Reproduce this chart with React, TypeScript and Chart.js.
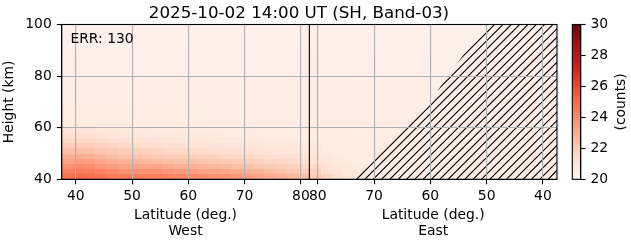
import React, { useEffect, useRef } from "react";
import { Chart, registerables } from "chart.js";

Chart.register(...registerables);
Chart.defaults.font.family = "DejaVu Sans";

// ---------- text ----------
const TITLE = "2025-10-02 14:00 UT (SH, Band-03)";
const ERR_TEXT = "ERR: 130";
const Y_LABEL = "Height (km)";
const X_LABEL = "Latitude (deg.)";
const WEST_LABEL = "West";
const EAST_LABEL = "East";
const CB_LABEL = "(counts)";

// ---------- axes ----------
const POLE_LAT = 81.5; // where the West and East halves meet
const LAT_EDGE = 37.5; // outer latitude of both halves
const WEST_TICKS = [40, 50, 60, 70, 80];
const EAST_TICKS = [80, 70, 60, 50, 40];
const HEIGHT_MIN = 40;
const HEIGHT_MAX = 100;
const HEIGHT_TICKS = [40, 60, 80, 100];
const CB_MIN = 20;
const CB_MAX = 30;
const CB_TICKS = [20, 22, 24, 26, 28, 30];

// ---------- grid cells ----------
const westColEdges = [37.5, 39.5, 41.5, 43.5, 45.5, 47.5, 49.5, 51.5, 53.5, 55.5, 57.5, 59.5, 61.5, 63.5, 65.5, 67.5, 69.5, 71.5, 73.5, 75.5, 77.5, 79.5, 81.5];
const eastColEdges = [81.5, 79.5, 77.5, 75.5, 73.5, 71.5, 69.5, 67.5, 65.5, 63.5, 61.5, 59.5, 57.5, 55.5, 53.5, 51.5, 49.5, 47.5, 45.5, 43.5, 41.5, 39.5, 37.5];
const rowEdges = [40, 42, 44, 46, 48, 50, 52, 54, 56, 58, 60, 62, 70, 80, 90, 100];

// counts, rows bottom -> top, columns from outer latitude towards the pole
const westValues = [
  [24.8, 25.0, 24.9, 24.7, 24.5, 24.4, 24.4, 24.3, 24.3, 24.2, 24.1, 24.0, 23.9, 23.8, 23.7, 23.5, 23.4, 23.2, 23.0, 22.8, 22.6, 22.4],
  [24.3, 24.5, 24.4, 24.2, 24.0, 23.8, 23.8, 23.7, 23.7, 23.6, 23.5, 23.4, 23.3, 23.2, 23.1, 23.0, 22.9, 22.7, 22.5, 22.3, 22.1, 21.9],
  [23.8, 24.0, 23.9, 23.6, 23.4, 23.3, 23.2, 23.1, 23.1, 23.0, 22.9, 22.8, 22.7, 22.6, 22.5, 22.4, 22.3, 22.1, 22.0, 21.8, 21.7, 21.5],
  [23.3, 23.4, 23.3, 23.1, 22.9, 22.8, 22.7, 22.6, 22.5, 22.4, 22.3, 22.3, 22.2, 22.1, 22.0, 21.9, 21.8, 21.7, 21.6, 21.5, 21.4, 21.2],
  [22.8, 22.9, 22.8, 22.6, 22.4, 22.3, 22.2, 22.1, 22.0, 21.9, 21.9, 21.8, 21.7, 21.7, 21.6, 21.5, 21.5, 21.4, 21.3, 21.2, 21.1, 21.0],
  [22.3, 22.4, 22.3, 22.1, 22.0, 21.9, 21.8, 21.7, 21.6, 21.5, 21.5, 21.4, 21.4, 21.3, 21.3, 21.2, 21.2, 21.1, 21.0, 21.0, 20.9, 20.8],
  [21.9, 21.9, 21.9, 21.7, 21.6, 21.5, 21.4, 21.3, 21.3, 21.2, 21.2, 21.1, 21.1, 21.0, 21.0, 21.0, 20.9, 20.9, 20.8, 20.8, 20.8, 20.7],
  [21.5, 21.5, 21.5, 21.4, 21.3, 21.2, 21.1, 21.1, 21.0, 21.0, 20.9, 20.9, 20.9, 20.8, 20.8, 20.8, 20.7, 20.7, 20.7, 20.7, 20.6, 20.6],
  [21.2, 21.2, 21.2, 21.1, 21.0, 20.9, 20.9, 20.8, 20.8, 20.8, 20.7, 20.7, 20.7, 20.7, 20.6, 20.6, 20.6, 20.6, 20.6, 20.5, 20.5, 20.5],
  [20.9, 20.9, 20.9, 20.8, 20.8, 20.7, 20.7, 20.7, 20.6, 20.6, 20.6, 20.6, 20.6, 20.5, 20.5, 20.5, 20.5, 20.5, 20.5, 20.5, 20.4, 20.4],
  [20.7, 20.7, 20.7, 20.6, 20.6, 20.6, 20.5, 20.5, 20.5, 20.5, 20.5, 20.5, 20.5, 20.4, 20.4, 20.4, 20.4, 20.4, 20.4, 20.4, 20.4, 20.4],
  [20.5, 20.5, 20.5, 20.5, 20.5, 20.5, 20.5, 20.5, 20.5, 20.5, 20.5, 20.5, 20.4, 20.4, 20.4, 20.4, 20.4, 20.4, 20.4, 20.4, 20.4, 20.4],
  [20.4, 20.4, 20.4, 20.4, 20.4, 20.4, 20.4, 20.4, 20.4, 20.4, 20.4, 20.4, 20.4, 20.4, 20.4, 20.4, 20.4, 20.4, 20.4, 20.4, 20.4, 20.4],
  [20.35, 20.35, 20.35, 20.35, 20.35, 20.35, 20.35, 20.35, 20.35, 20.35, 20.35, 20.35, 20.35, 20.35, 20.35, 20.35, 20.35, 20.35, 20.35, 20.35, 20.35, 20.35],
  [20.3, 20.3, 20.3, 20.3, 20.3, 20.3, 20.3, 20.3, 20.3, 20.3, 20.3, 20.3, 20.3, 20.3, 20.3, 20.3, 20.3, 20.3, 20.3, 20.3, 20.3, 20.3],
];

// columns from the pole towards the outer latitude
const eastValues = [
  [22.0, 21.6, 21.2, 20.9, 20.7, 20.6, 20.6, 20.5, 20.5, 20.5, 20.5, 20.5, 20.5, 20.5, 20.5, 20.5, 20.5, 20.5, 20.5, 20.5, 20.5, 20.5],
  [21.7, 21.3, 21.0, 20.8, 20.6, 20.5, 20.5, 20.5, 20.5, 20.5, 20.5, 20.5, 20.5, 20.5, 20.5, 20.5, 20.5, 20.5, 20.5, 20.5, 20.5, 20.5],
  [21.4, 21.1, 20.9, 20.7, 20.6, 20.5, 20.5, 20.5, 20.5, 20.5, 20.5, 20.5, 20.5, 20.5, 20.5, 20.5, 20.5, 20.5, 20.5, 20.5, 20.5, 20.5],
  [21.1, 20.9, 20.7, 20.6, 20.5, 20.5, 20.5, 20.5, 20.5, 20.5, 20.5, 20.5, 20.5, 20.5, 20.5, 20.5, 20.5, 20.5, 20.5, 20.5, 20.5, 20.5],
  [20.9, 20.7, 20.6, 20.5, 20.5, 20.5, 20.5, 20.5, 20.5, 20.5, 20.5, 20.5, 20.5, 20.5, 20.5, 20.5, 20.5, 20.5, 20.5, 20.5, 20.5, 20.5],
  [20.8, 20.6, 20.5, 20.5, 20.5, 20.5, 20.5, 20.5, 20.5, 20.5, 20.5, 20.5, 20.5, 20.5, 20.5, 20.5, 20.5, 20.5, 20.5, 20.5, 20.5, 20.5],
  [20.7, 20.5, 20.5, 20.5, 20.5, 20.5, 20.5, 20.5, 20.5, 20.5, 20.5, 20.5, 20.5, 20.5, 20.5, 20.5, 20.5, 20.5, 20.5, 20.5, 20.5, 20.5],
  [20.6, 20.5, 20.5, 20.5, 20.5, 20.5, 20.5, 20.5, 20.5, 20.5, 20.5, 20.5, 20.5, 20.5, 20.5, 20.5, 20.5, 20.5, 20.5, 20.5, 20.5, 20.5],
  [20.5, 20.5, 20.5, 20.5, 20.5, 20.5, 20.5, 20.5, 20.5, 20.5, 20.5, 20.5, 20.5, 20.5, 20.5, 20.5, 20.5, 20.5, 20.5, 20.5, 20.5, 20.5],
  [20.5, 20.5, 20.5, 20.5, 20.4, 20.4, 20.4, 20.4, 20.4, 20.4, 20.4, 20.4, 20.4, 20.4, 20.4, 20.4, 20.4, 20.4, 20.4, 20.4, 20.4, 20.4],
  [20.4, 20.4, 20.4, 20.4, 20.4, 20.4, 20.4, 20.4, 20.4, 20.4, 20.4, 20.4, 20.4, 20.4, 20.4, 20.4, 20.4, 20.4, 20.4, 20.4, 20.4, 20.4],
  [20.4, 20.4, 20.4, 20.4, 20.4, 20.4, 20.4, 20.4, 20.4, 20.4, 20.4, 20.4, 20.4, 20.4, 20.4, 20.4, 20.4, 20.4, 20.4, 20.4, 20.4, 20.4],
  [20.4, 20.4, 20.4, 20.4, 20.4, 20.4, 20.4, 20.4, 20.4, 20.4, 20.4, 20.4, 20.4, 20.4, 20.4, 20.4, 20.4, 20.4, 20.4, 20.4, 20.4, 20.4],
  [20.35, 20.35, 20.35, 20.35, 20.35, 20.35, 20.35, 20.35, 20.35, 20.35, 20.35, 20.35, 20.35, 20.35, 20.35, 20.35, 20.35, 20.35, 20.35, 20.35, 20.35, 20.35],
  [20.3, 20.3, 20.3, 20.3, 20.3, 20.3, 20.3, 20.3, 20.3, 20.3, 20.3, 20.3, 20.3, 20.3, 20.3, 20.3, 20.3, 20.3, 20.3, 20.3, 20.3, 20.3],
];

// edge of the no-data (hatched) region on the East side
const noDataLat = [73.5, 69.0, 64.5, 60.0, 57.0, 53.5, 49.9];
const noDataHeight = [40, 50, 60, 70, 80, 90, 100];

// ---------- style ----------
const REDS = ["#fff5f0", "#fee0d2", "#fcbba1", "#fc9272", "#fb6a4a", "#ef3b2c", "#cb181d", "#a50f15", "#67000d"];
const FONT = "DejaVu Sans";
const TICK_SIZE = 13.9;
const TITLE_SIZE = 16.7;
const GRID_COLOR = "#b0b0b0";
const W = 631;
const H = 243;
const AREA = { left: 61.7, right: 557, top: 24.5, bottom: 179.3 };
const CB_LEFT = 560;
const CB_AREA = { left: 572.3, right: 580.7 };
const HATCH_SPACING = 8.33;
const HATCH_ANCHOR = 354.5;

const eastPos = (lat: number) => 2 * POLE_LAT - lat;
const X_TICK_POS = WEST_TICKS.map((v) => v).concat(EAST_TICKS.map(eastPos));
const X_TICK_LABELS = WEST_TICKS.map(String).concat(EAST_TICKS.map(String));

function hexRgb(h: string) {
  return [parseInt(h.slice(1, 3), 16), parseInt(h.slice(3, 5), 16), parseInt(h.slice(5, 7), 16)];
}
const REDS_RGB = REDS.map(hexRgb);
function reds(v: number) {
  let t = (v - CB_MIN) / (CB_MAX - CB_MIN);
  t = Math.max(0, Math.min(1, t));
  const seg = t * (REDS_RGB.length - 1);
  const i = Math.min(REDS_RGB.length - 2, Math.floor(seg));
  const f = seg - i;
  const a = REDS_RGB[i];
  const b = REDS_RGB[i + 1];
  const c = a.map((x, k) => Math.round(x + (b[k] - x) * f));
  return `rgb(${c[0]},${c[1]},${c[2]})`;
}

const heatmapPlugin = {
  id: "heatmap",
  beforeDraw(chart: any) {
    const { ctx, chartArea: a, scales } = chart;
    const xs = scales.x;
    const ys = scales.y;
    ctx.save();
    ctx.beginPath();
    ctx.rect(a.left, a.top, a.right - a.left, a.bottom - a.top);
    ctx.clip();
    const drawSide = (edges: number[], values: number[][], toPos: (l: number) => number) => {
      for (let r = 0; r < rowEdges.length - 1; r++) {
        const yTop = Math.round(ys.getPixelForValue(rowEdges[r + 1]));
        const yBot = Math.round(ys.getPixelForValue(rowEdges[r]));
        for (let c = 0; c < edges.length - 1; c++) {
          const xa = Math.round(xs.getPixelForValue(toPos(edges[c])));
          const xb = Math.round(xs.getPixelForValue(toPos(edges[c + 1])));
          ctx.fillStyle = reds(values[r][c]);
          ctx.fillRect(Math.min(xa, xb), yTop, Math.abs(xb - xa), yBot - yTop);
        }
      }
    };
    drawSide(westColEdges, westValues, (l) => l);
    drawSide(eastColEdges, eastValues, eastPos);

    // hatched no-data region
    ctx.beginPath();
    noDataLat.forEach((lat, i) => {
      const px = xs.getPixelForValue(eastPos(lat));
      const py = ys.getPixelForValue(noDataHeight[i]);
      if (i === 0) ctx.moveTo(px, py);
      else ctx.lineTo(px, py);
    });
    ctx.lineTo(a.right + 5, a.top - 5);
    ctx.lineTo(a.right + 5, a.bottom + 5);
    ctx.lineTo(xs.getPixelForValue(eastPos(noDataLat[0])), a.bottom + 5);
    ctx.closePath();
    ctx.clip();
    ctx.strokeStyle = "#000";
    ctx.lineWidth = 1.1;
    const span = a.bottom - a.top;
    const kStart = Math.ceil((HATCH_ANCHOR - a.left + span) / HATCH_SPACING);
    ctx.beginPath();
    for (let x0 = HATCH_ANCHOR - kStart * HATCH_SPACING; x0 < a.right + 2; x0 += HATCH_SPACING) {
      ctx.moveTo(x0, a.bottom + 2);
      ctx.lineTo(x0 + span + 4, a.top - 2);
    }
    ctx.stroke();
    ctx.restore();
  },
  afterDraw(chart: any) {
    const { ctx, chartArea: a, scales } = chart;
    const xs = scales.x;
    ctx.save();
    ctx.strokeStyle = "#000";
    ctx.lineWidth = 1.1;
    ctx.strokeRect(a.left, a.top, a.right - a.left, a.bottom - a.top);
    ctx.fillStyle = "#000";
    ctx.textBaseline = "alphabetic";
    ctx.font = `${TITLE_SIZE}px "${FONT}"`;
    ctx.textAlign = "center";
    ctx.fillText(TITLE, 299, 17.5);
    ctx.font = `${TICK_SIZE}px "${FONT}"`;
    ctx.textAlign = "left";
    ctx.fillText(ERR_TEXT, a.left + 8.7, a.top + 18.3);
    ctx.textAlign = "center";
    const wc = xs.getPixelForValue((LAT_EDGE + POLE_LAT) / 2);
    const ec = xs.getPixelForValue((POLE_LAT + eastPos(LAT_EDGE)) / 2);
    ctx.fillText(X_LABEL, wc, 218.9);
    ctx.fillText(WEST_LABEL, wc, 235);
    ctx.fillText(X_LABEL, ec, 218.9);
    ctx.fillText(EAST_LABEL, ec, 235);
    ctx.restore();
  },
};

const colorbarPlugin = {
  id: "colorbar",
  beforeDraw(chart: any) {
    const { ctx, chartArea: a, scales } = chart;
    const ys = scales.y;
    const g = ctx.createLinearGradient(0, ys.getPixelForValue(CB_MIN), 0, ys.getPixelForValue(CB_MAX));
    REDS.forEach((c, i) => g.addColorStop(i / (REDS.length - 1), c));
    ctx.save();
    ctx.fillStyle = g;
    ctx.fillRect(a.left, a.top, a.right - a.left, a.bottom - a.top);
    ctx.restore();
  },
  afterDraw(chart: any) {
    const { ctx, chartArea: a } = chart;
    ctx.save();
    ctx.strokeStyle = "#000";
    ctx.lineWidth = 1.1;
    ctx.strokeRect(a.left, a.top, a.right - a.left, a.bottom - a.top);
    ctx.fillStyle = "#000";
    ctx.font = `${TICK_SIZE}px "${FONT}"`;
    ctx.textAlign = "center";
    ctx.textBaseline = "middle";
    ctx.translate(621 - CB_LEFT, (a.top + a.bottom) / 2);
    ctx.rotate(-Math.PI / 2);
    ctx.fillText(CB_LABEL, 0, 0);
    ctx.restore();
  },
};

export default function App() {
  const mainRef = useRef<HTMLCanvasElement | null>(null);
  const cbRef = useRef<HTMLCanvasElement | null>(null);

  useEffect(() => {
    const tickFont = { family: FONT, size: TICK_SIZE };
    const gridOpts = { color: GRID_COLOR, lineWidth: 1.1, tickColor: "#000", tickLength: 4.9, tickWidth: 1.1 };
    const main = new Chart(mainRef.current as HTMLCanvasElement, {
      type: "scatter",
      data: {
        datasets: [
          {
            data: [
              { x: POLE_LAT, y: HEIGHT_MIN },
              { x: POLE_LAT, y: HEIGHT_MAX },
            ],
            showLine: true,
            borderColor: "#000",
            borderWidth: 1.1,
            pointRadius: 0,
          } as any,
        ],
      },
      options: {
        animation: false,
        responsive: false,
        events: [],
        layout: { padding: { top: AREA.top, left: 0, right: W - AREA.right, bottom: 0 } },
        plugins: { legend: { display: false }, tooltip: { enabled: false }, title: { display: false } },
        scales: {
          x: {
            type: "linear",
            min: LAT_EDGE,
            max: eastPos(LAT_EDGE),
            afterBuildTicks: (s: any) => {
              s.ticks = X_TICK_POS.map((v) => ({ value: v }));
            },
            afterFit: (s: any) => {
              s.height = H - AREA.bottom;
            },
            ticks: {
              autoSkip: false,
              maxRotation: 0,
              minRotation: 0,
              padding: 3.5,
              color: "#000",
              font: tickFont,
              callback: (_v: any, i: number) => X_TICK_LABELS[i],
            },
            grid: gridOpts,
            border: { display: true, color: "#000", width: 1.1 },
          },
          y: {
            type: "linear",
            min: HEIGHT_MIN,
            max: HEIGHT_MAX,
            afterBuildTicks: (s: any) => {
              s.ticks = HEIGHT_TICKS.map((v) => ({ value: v }));
            },
            afterFit: (s: any) => {
              s.width = AREA.left;
            },
            ticks: { padding: 5, color: "#000", font: tickFont },
            grid: gridOpts,
            border: { display: true, color: "#000", width: 1.1 },
            title: {
              display: true,
              text: Y_LABEL,
              color: "#000",
              font: tickFont,
              padding: { top: 1.5, bottom: 0 },
            },
          },
        },
      } as any,
      plugins: [heatmapPlugin],
    });

    const cbWidth = W - CB_LEFT;
    const cb = new Chart(cbRef.current as HTMLCanvasElement, {
      type: "scatter",
      data: { datasets: [] },
      options: {
        animation: false,
        responsive: false,
        events: [],
        layout: {
          padding: { top: AREA.top, left: CB_AREA.left - CB_LEFT, right: 0, bottom: H - AREA.bottom },
        },
        plugins: { legend: { display: false }, tooltip: { enabled: false } },
        scales: {
          x: { display: false, min: 0, max: 1 },
          y: {
            position: "right",
            min: CB_MIN,
            max: CB_MAX,
            afterBuildTicks: (s: any) => {
              s.ticks = CB_TICKS.map((v) => ({ value: v }));
            },
            afterFit: (s: any) => {
              s.width = cbWidth - (CB_AREA.right - CB_LEFT);
            },
            ticks: { padding: 4.9, color: "#000", font: tickFont },
            grid: { display: true, drawOnChartArea: false, drawTicks: true, tickLength: 4.9, tickColor: "#000", tickWidth: 1.1 },
            border: { display: true, color: "#000", width: 1.1 },
          },
        },
      } as any,
      plugins: [colorbarPlugin],
    });

    return () => {
      main.destroy();
      cb.destroy();
    };
  }, []);

  return (
    <div style={{ position: "fixed", left: 0, top: 0, width: W, height: H, background: "#fff" }}>
      <canvas ref={mainRef} width={W} height={H} style={{ position: "absolute", left: 0, top: 0, width: W, height: H }} />
      <canvas
        ref={cbRef}
        width={W - CB_LEFT}
        height={H}
        style={{ position: "absolute", left: CB_LEFT, top: 0, width: W - CB_LEFT, height: H }}
      />
    </div>
  );
}
